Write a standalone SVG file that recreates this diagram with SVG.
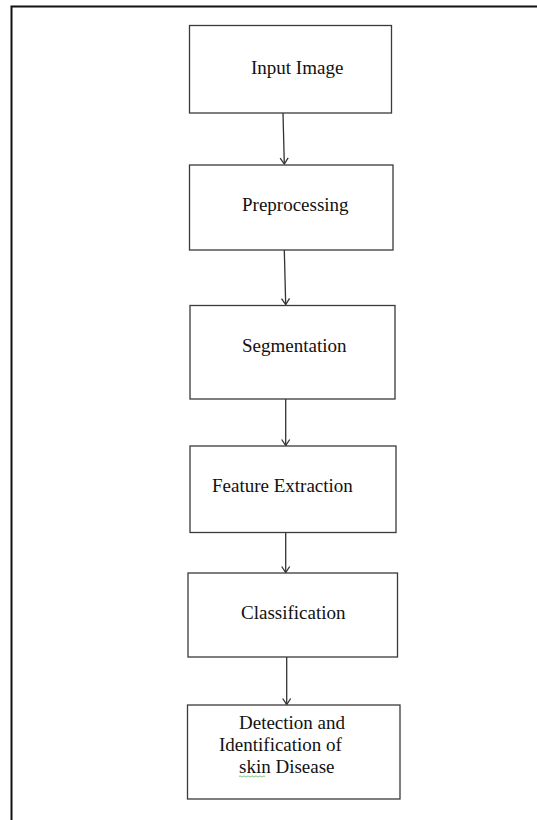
<svg xmlns="http://www.w3.org/2000/svg" width="537" height="820" viewBox="0 0 537 820">
<style>
.box{fill:#fff;stroke:#3a3a3a;stroke-width:1.3}
.lbl{font-family:"Liberation Serif","Times New Roman",serif;font-size:19px;fill:#111}
.con{stroke:#333;stroke-width:1.3;fill:none}
</style>
<defs>
<marker id="arr" viewBox="0 0 10 10" refX="9" refY="5" markerWidth="10" markerHeight="10" markerUnits="userSpaceOnUse" orient="auto">
<path d="M3,1 L9,5 L3,9" fill="none" stroke="#333" stroke-width="1.3"/>
</marker>
</defs>
<rect width="537" height="820" fill="#fff"/>
<path d="M11.5,820 V6.5 H537" fill="none" stroke="#111" stroke-width="2"/>
<g id="connectors">
<line class="con" x1="283" y1="113" x2="284.3" y2="164" marker-end="url(#arr)"/>
<line class="con" x1="284.3" y1="250" x2="285.7" y2="304.5" marker-end="url(#arr)"/>
<line class="con" x1="285.7" y1="399" x2="285.7" y2="445.5" marker-end="url(#arr)"/>
<line class="con" x1="285.7" y1="532.5" x2="285.7" y2="572.5" marker-end="url(#arr)"/>
<line class="con" x1="286.7" y1="657" x2="286.7" y2="704.5" marker-end="url(#arr)"/>
</g>
<g id="n1">
<rect class="box" x="189.5" y="25.5" width="202" height="87.5"/>
<text class="lbl" x="251" y="74">Input Image</text>
</g>
<g id="n2">
<rect class="box" x="189.5" y="165" width="203.5" height="85"/>
<text class="lbl" x="242" y="211">Preprocessing</text>
</g>
<g id="n3">
<rect class="box" x="190" y="305.5" width="205" height="93.5"/>
<text class="lbl" x="242" y="352">Segmentation</text>
</g>
<g id="n4">
<rect class="box" x="190" y="446" width="206" height="86.5"/>
<text class="lbl" x="212" y="492">Feature Extraction</text>
</g>
<g id="n5">
<rect class="box" x="188" y="573" width="209.5" height="84"/>
<text class="lbl" x="241" y="619">Classification</text>
</g>
<g id="n6">
<rect class="box" x="187.5" y="705" width="212.5" height="94"/>
<text class="lbl" x="239" y="729">Detection and</text>
<text class="lbl" x="219" y="751">Identification of</text>
<text class="lbl" x="239" y="773">skin Disease</text>
<path d="M239,776.5 q1,-1.2 2,0 t2,0 t2,0 t2,0 t2,0 t2,0 t2,0 t2,0 t2,0 t2,0 t2,0 t2,0 t2,0" fill="none" stroke="#5cb85c" stroke-width="0.8"/>
</g>
</svg>
